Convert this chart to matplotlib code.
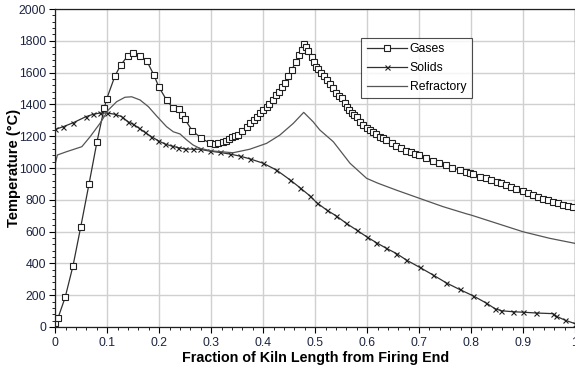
import matplotlib
matplotlib.use("Agg")
import matplotlib.pyplot as plt
from matplotlib.ticker import MultipleLocator

plt.rcParams['font.family'] = ['Liberation Sans', 'DejaVu Sans']

# gas temperature profile
gas_x = [0.0, 0.005, 0.019, 0.034, 0.049, 0.065, 0.080, 0.094, 0.099, 0.115,
         0.126, 0.139, 0.149, 0.163, 0.176, 0.190, 0.199, 0.214, 0.226, 0.2385,
         0.243, 0.2494, 0.2635, 0.280, 0.2975, 0.307, 0.3135, 0.322, 0.328, 0.335,
         0.340, 0.3456, 0.351, 0.360, 0.368, 0.374, 0.382, 0.388, 0.394, 0.400,
         0.4065, 0.4115, 0.418, 0.4244, 0.431, 0.437, 0.442, 0.448, 0.4546, 0.463,
         0.469, 0.474, 0.478, 0.482, 0.4866, 0.493, 0.4975, 0.5013, 0.5058, 0.512,
         0.5167, 0.522, 0.528, 0.5346, 0.541, 0.546, 0.551, 0.557, 0.5615, 0.565,
         0.570, 0.5744, 0.5796, 0.586, 0.592, 0.599, 0.605, 0.612, 0.618, 0.6244,
         0.631, 0.637, 0.647, 0.6565, 0.666, 0.6744, 0.685, 0.692, 0.700, 0.714,
         0.727, 0.7385, 0.751, 0.764, 0.778, 0.791, 0.7975, 0.804, 0.817, 0.8296,
         0.839, 0.849, 0.858, 0.868, 0.8777, 0.887, 0.900, 0.9096, 0.919, 0.929,
         0.9385, 0.948, 0.9577, 0.967, 0.977, 0.9865, 0.996]
gas_t = [27, 55, 187, 384, 631, 902, 1162, 1375, 1436, 1581,
         1648, 1704, 1721, 1704, 1673, 1583, 1511, 1428, 1379, 1369,
         1333, 1306, 1235, 1190, 1155, 1151, 1155, 1163, 1172, 1182,
         1193, 1201, 1209, 1235, 1260, 1281, 1302, 1319, 1344, 1365,
         1382, 1402, 1428, 1457, 1480, 1507, 1536, 1579, 1616, 1667,
         1711, 1742, 1782, 1759, 1735, 1700, 1669, 1637, 1621, 1599,
         1579, 1553, 1528, 1501, 1474, 1453, 1438, 1407, 1382, 1365,
         1348, 1333, 1319, 1291, 1270, 1250, 1239, 1228, 1214, 1197,
         1187, 1176, 1155, 1138, 1124, 1109, 1098, 1090, 1082, 1061,
         1044, 1033, 1019, 1002, 987, 977, 967, 960, 945, 935,
         924, 914, 904, 893, 882, 868, 855, 840, 828, 818,
         805, 799, 788, 778, 767, 761, 755]

# solids temperature profile
sol_x = [0.0, 0.0154, 0.0346, 0.059, 0.073, 0.086, 0.0988, 0.115, 0.1277, 0.140,
         0.150, 0.1615, 0.1725, 0.185, 0.198, 0.211, 0.224, 0.2365, 0.249, 0.2654,
         0.278, 0.2975, 0.3167, 0.3356, 0.355, 0.374, 0.40, 0.4256, 0.451, 0.4705,
         0.4898, 0.5027, 0.522, 0.541, 0.560, 0.5796, 0.599, 0.618, 0.637, 0.6565,
         0.6757, 0.7013, 0.727, 0.7527, 0.778, 0.804, 0.8296, 0.8456, 0.8585, 0.881,
         0.90, 0.9258, 0.9577, 0.964, 0.980, 1.0]
sol_t = [1243, 1260, 1285, 1323, 1338, 1346, 1346, 1338, 1323, 1291,
         1275, 1250, 1224, 1197, 1172, 1151, 1138, 1128, 1120, 1118,
         1118, 1106, 1098, 1088, 1075, 1058, 1030, 987, 927, 877,
         825, 783, 736, 698, 652, 610, 568, 530, 495, 462,
         421, 375, 327, 277, 236, 196, 150, 116, 102, 96,
         93, 88, 84, 68, 44, 21]

# refractory wall temperature profile
ref_x = [0.0, 0.004, 0.022, 0.051, 0.067, 0.086, 0.102, 0.118, 0.134, 0.147,
         0.163, 0.179, 0.195, 0.214, 0.227, 0.240, 0.253, 0.265, 0.278, 0.300,
         0.317, 0.342, 0.374, 0.4065, 0.432, 0.458, 0.478, 0.496, 0.509, 0.535,
         0.567, 0.599, 0.621, 0.657, 0.701, 0.746, 0.791, 0.80, 0.9, 0.951, 1.0]
ref_t = [1030, 1082, 1103, 1134, 1197, 1281, 1365, 1417, 1445, 1448,
         1428, 1386, 1327, 1260, 1228, 1214, 1176, 1145, 1124, 1108,
         1103, 1096, 1118, 1155, 1207, 1281, 1350, 1291, 1239, 1165,
         1030, 935, 904, 860, 809, 757, 712, 704, 599, 558, 526]

fig = plt.figure(figsize=(5.75, 3.71), dpi=100)
ax = fig.add_axes([0.0962, 0.1186, 0.9038, 0.8571])

ax.plot(gas_x, gas_t, color='#303030', lw=0.9, marker='s', ms=4.3,
        mfc='white', mec='#202020', mew=0.8, label='Gases')
ax.plot(sol_x, sol_t, color='#303030', lw=0.9, marker='x', ms=3.6,
        mec='#202020', mew=0.8, label='Solids')
ax.plot(ref_x, ref_t, color='#555555', lw=0.9, label='Refractory')

ax.set_xlim(0, 1)
ax.set_ylim(0, 2000)
ax.xaxis.set_major_locator(MultipleLocator(0.1))
ax.xaxis.set_minor_locator(MultipleLocator(0.02))
ax.yaxis.set_major_locator(MultipleLocator(200))
ax.yaxis.set_minor_locator(MultipleLocator(40))
ax.set_xticks([0, 0.1, 0.2, 0.3, 0.4, 0.5, 0.6, 0.7, 0.8, 0.9, 1.0])
ax.set_xticklabels(['0', '0.1', '0.2', '0.3', '0.4', '0.5', '0.6', '0.7', '0.8', '0.9', '1'])

ax.grid(True, which='major', color='#d0d0d0', lw=1)
ax.set_axisbelow(True)
ax.tick_params(which='major', direction='out', length=4, width=0.8,
               labelsize=8.8, labelcolor='#1c2440', pad=3)
ax.tick_params(axis='y', which='major', pad=2.5)
ax.tick_params(which='minor', direction='out', length=2, width=0.6)
for s in ax.spines.values():
    s.set_color('#202020')
    s.set_linewidth(0.9)

ax.set_xlabel('Fraction of Kiln Length from Firing End', fontsize=10.3,
              fontweight='bold', labelpad=2)
ax.set_ylabel('Temperature (\u00b0C)', fontsize=10.5, fontweight='bold')
ax.yaxis.set_label_coords(-0.066, 0.5)

leg = ax.legend(loc='upper left', bbox_to_anchor=(0.589, 0.909), fontsize=8.8,
                frameon=True, fancybox=False, borderpad=0.45, labelspacing=0.55,
                handlelength=3.3, handletextpad=0.2, borderaxespad=0)
leg.get_frame().set_edgecolor('#202020')
leg.get_frame().set_linewidth(0.8)

fig.savefig('out.png', dpi=100)
